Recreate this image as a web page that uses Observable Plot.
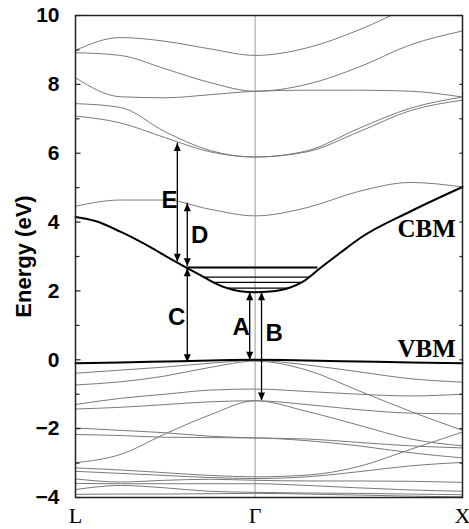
<!DOCTYPE html>
<html><head><meta charset="utf-8">
<script src="https://cdn.jsdelivr.net/npm/d3@7"></script>
<script src="https://cdn.jsdelivr.net/npm/@observablehq/plot@0.6"></script>
<style>body{margin:0;background:#fff}</style>
</head><body><div id="chart"></div>
<script>
// k-path positions (L=0, Γ=0.866, X=1.866)
const kPoints = [0, 0.2165, 0.433, 0.6495, 0.866, 1.116, 1.366, 1.616, 1.866];
const kLabels = ["L", "Γ", "X"];
const kLabelPos = [0, 0.866, 1.866];

// conduction band minimum (finer sampling)
const cbmK = [0, 0.096, 0.2165, 0.361, 0.433, 0.534, 0.602, 0.664, 0.731, 0.794, 0.866, 0.938, 1.035, 1.097, 1.179, 1.275, 1.371, 1.612, 1.866];
const cbm = [4.15, 4.03, 3.72, 3.27, 3.02, 2.68, 2.46, 2.25, 2.08, 1.99, 1.96, 1.98, 2.10, 2.27, 2.66, 3.10, 3.53, 4.30, 5.02];
// valence band maximum
const vbm = [-0.10, -0.08, -0.05, -0.02, 0.0, -0.02, -0.05, -0.08, -0.10];

// other conduction bands (eV)
const cband1 = [8.99, 9.36, 9.25, 9.03, 8.84, 9.06, 9.58, 10.25, 10.8];
const cband2 = [8.92, 8.84, 8.45, 8.05, 7.80, 8.00, 8.50, 9.15, 9.55];
const cband3 = [8.19, 7.64, 7.61, 7.70, 7.80, 7.83, 7.83, 7.80, 7.63];
const cband4 = [7.44, 7.33, 6.62, 6.08, 5.89, 6.07, 6.72, 7.31, 7.63];
const cband5 = [7.08, 6.88, 6.45, 6.04, 5.89, 6.04, 6.62, 7.24, 7.54];
const cband6 = [4.46, 4.64, 4.64, 4.37, 4.18, 4.42, 4.89, 5.15, 5.02];

// other valence bands (eV)
const vband1 = [-0.39, -0.30, -0.21, -0.10, -0.02, -0.15, -0.35, -0.55, -0.65];
const vband2 = [-0.73, -0.64, -0.47, -0.22, -0.04, -0.30, -0.90, -1.50, -2.05];
const vband3 = [-1.30, -1.12, -1.00, -0.88, -0.85, -0.92, -1.00, -1.05, -1.00];
const vband4 = [-1.43, -1.38, -1.30, -1.22, -1.19, -1.30, -1.45, -1.55, -1.57];
const vband5 = [-2.99, -2.75, -2.15, -1.60, -1.19, -1.50, -1.90, -2.30, -2.50];
const vband6 = [-1.98, -2.05, -2.12, -2.22, -2.27, -2.30, -2.40, -2.50, -2.56];
const vband7 = [-2.17, -2.20, -2.25, -2.26, -2.27, -2.35, -2.50, -2.70, -2.85];
const vband8 = [-3.14, -3.20, -3.28, -3.36, -3.40, -3.35, -3.10, -2.60, -2.10];
const vband9 = [-3.24, -3.30, -3.36, -3.42, -3.45, -3.40, -3.25, -3.08, -2.98];
const vband10 = [-3.46, -3.55, -3.50, -3.47, -3.50, -3.52, -3.52, -3.53, -3.56];
const vband11 = [-3.59, -3.60, -3.60, -3.60, -3.60, -3.65, -3.72, -3.78, -3.82];
const vband12 = [-3.77, -3.65, -3.72, -3.82, -3.85, -3.87, -3.88, -3.90, -3.92];
const vband13 = [-3.91, -3.90, -3.90, -3.89, -3.88, -3.90, -3.93, -3.96, -3.98];

// exciton levels below the CBM
const excitonE = [2.68, 2.40, 2.25, 2.08];
const excitonKStart = [0.534, 0.621, 0.664, 0.731];
const excitonKEnd = [1.169, 1.126, 1.092, 1.035];

// transition arrows
const arrowNames = ["E", "D", "C", "A", "B"];
const arrowK = [0.491, 0.539, 0.539, 0.840, 0.897];
const arrowLow = [2.85, 2.72, -0.07, 0.0, -1.18];
const arrowHigh = [6.30, 4.55, 2.66, 1.96, 1.96];
const letterK = [0.453, 0.599, 0.488, 0.799, 0.958];
const letterE = [4.64, 3.62, 1.22, 0.93, 0.78];

const edgeNames = ["CBM", "VBM"];
const edgeK = [1.834, 1.834];
const edgeE = [3.80, 0.32];

const yMajor = [-4, -2, 0, 2, 4, 6, 8, 10];
const yMinor = [-3, -1, 1, 3, 5, 7, 9];
const yAll = d3.range(-4, 11);

const rows = (vals, id, ks = kPoints) => vals.map((e, i) => ({k: ks[i], e, id}));
const thinBands = [cband1, cband2, cband3, cband4, cband5, cband6,
  vband1, vband2, vband3, vband4, vband5, vband6, vband7, vband8, vband9, vband10, vband11, vband12, vband13]
  .flatMap((b, j) => rows(b, j));
const edgeRows = [...rows(cbm, "cbm", cbmK), ...rows(vbm, "vbm")];
const excitons = excitonE.map((e, i) => ({e, k1: excitonKStart[i], k2: excitonKEnd[i], i}));
const arrows = arrowNames.map((n, i) => ({n, k: arrowK[i], lo: arrowLow[i], hi: arrowHigh[i], lk: letterK[i], le: letterE[i]}));
const edges = edgeNames.map((n, i) => ({n, k: edgeK[i], e: edgeE[i]}));

const upHead = {draw(ctx) { ctx.moveTo(0, 0); ctx.lineTo(-3.5, 8); ctx.lineTo(3.5, 8); ctx.closePath(); }};
const downHead = {draw(ctx) { ctx.moveTo(0, 0); ctx.lineTo(-3.5, -8); ctx.lineTo(3.5, -8); ctx.closePath(); }};
const tick = (len) => ({draw(ctx) { ctx.moveTo(0, 0); ctx.lineTo(len, 0); }});

const sans = "Liberation Sans, Arial, Helvetica, sans-serif";
const serif = "Liberation Serif, Times New Roman, serif";

const chart = Plot.plot({
  width: 469, height: 529,
  marginTop: 15, marginBottom: 32, marginLeft: 75, marginRight: 7,
  x: {domain: [0, 1.866], axis: null},
  y: {domain: [-4, 10], axis: null},
  style: {background: "white"},
  marks: [
    Plot.ruleX([kLabelPos[1]], {stroke: "#9a9a9a", strokeWidth: 1}),
    Plot.line(thinBands, {x: "k", y: "e", z: "id", stroke: "#7a7a7a", strokeWidth: 1, curve: "monotone-x", clip: true}),
    Plot.line(edgeRows, {x: "k", y: "e", z: "id", stroke: "black", strokeWidth: 2, curve: "monotone-x"}),
    Plot.ruleY(excitons.filter(d => d.i === 0), {y: "e", x1: "k1", x2: "k2", stroke: "black", strokeWidth: 2}),
    Plot.ruleY(excitons.filter(d => d.i > 0), {y: "e", x1: "k1", x2: "k2", stroke: "black", strokeWidth: 1.3}),
    Plot.ruleX(arrows, {x: "k", y1: "lo", y2: "hi", stroke: "black", strokeWidth: 1.3}),
    Plot.dot(arrows, {x: "k", y: "hi", symbol: upHead, fill: "black", stroke: "none"}),
    Plot.dot(arrows, {x: "k", y: "lo", symbol: downHead, fill: "black", stroke: "none"}),
    Plot.text(arrows, {x: "lk", y: "le", text: "n", fontFamily: sans, fontWeight: "bold", fontSize: 24, fill: "black"}),
    Plot.text(edges, {x: "k", y: "e", text: "n", textAnchor: "end", fontFamily: serif, fontWeight: "bold", fontSize: 25, fill: "black"}),
    Plot.frame({stroke: "#222", strokeWidth: 1.5}),
    Plot.dot(yMajor, {y: d => d, frameAnchor: "left", symbol: tick(5), stroke: "#222", fill: "none", strokeWidth: 1.2}),
    Plot.dot(yMinor, {y: d => d, frameAnchor: "left", symbol: tick(4), stroke: "#222", fill: "none", strokeWidth: 1.2}),
    Plot.dot(yAll, {y: d => d, frameAnchor: "right", symbol: tick(-3), stroke: "#222", fill: "none", strokeWidth: 1.2}),
    Plot.axisY({ticks: yMajor, tickSize: 0, tickPadding: 16, fontSize: 21, fontWeight: "bold", fontFamily: sans, label: null, color: "black"}),
    Plot.axisX({ticks: kLabelPos, tickSize: 0, tickPadding: 10, tickFormat: d => kLabels[kLabelPos.indexOf(d)], fontSize: 22, fontFamily: serif, label: null, color: "black"}),
    Plot.text(["Energy (eV)"], {frameAnchor: "left", dx: -52, rotate: -90, text: d => d, textAnchor: "middle", fontFamily: sans, fontWeight: "bold", fontSize: 22, fill: "black", lineAnchor: "middle"})
  ]
});
document.getElementById("chart").append(chart);
</script>
</body></html>
